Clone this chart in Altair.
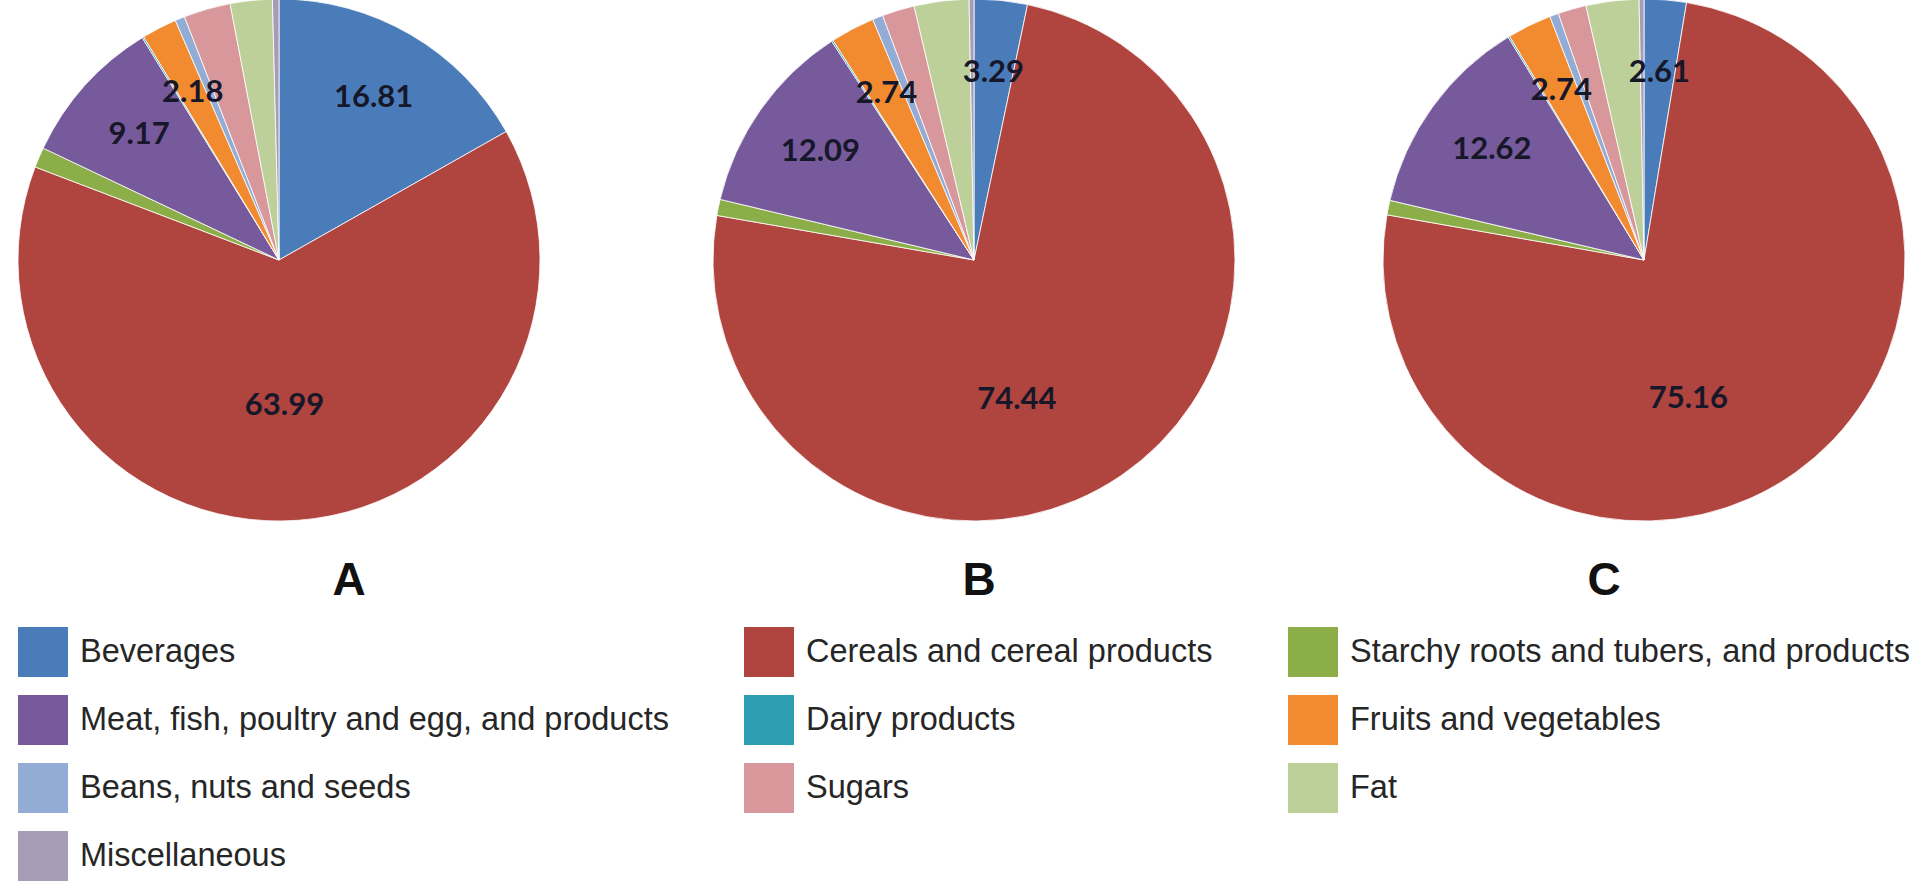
import math

import altair as alt
import pandas as pd

# Panels and food groups (legend order = clockwise slice order)
panels = ["A", "B", "C"]
categories = [
    "Beverages",
    "Cereals and cereal products",
    "Starchy roots and tubers, and products",
    "Meat, fish, poultry and egg, and products",
    "Dairy products",
    "Fruits and vegetables",
    "Beans, nuts and seeds",
    "Sugars",
    "Fat",
    "Miscellaneous",
]
colors = [
    "#4a7cba", "#b0443f", "#8cae48", "#765a9c", "#2e9fb3",
    "#f28a30", "#92acd6", "#d8979a", "#bdd09a", "#a69cb6",
]

# Percentage share of each food group, per panel
share_a = [16.81, 63.99, 1.25, 9.17, 0.10, 2.18, 0.60, 2.90, 2.60, 0.40]
share_b = [3.29, 74.44, 1.00, 12.09, 0.10, 2.74, 0.65, 2.00, 3.39, 0.30]
share_c = [2.61, 75.16, 0.90, 12.62, 0.10, 2.74, 0.55, 1.75, 3.27, 0.30]

# Groups whose share is printed on the slice
labelled = [
    "Beverages",
    "Cereals and cereal products",
    "Meat, fish, poultry and egg, and products",
    "Fruits and vegetables",
]

rows = []
for p_i, (panel, shares) in enumerate(zip(panels, [share_a, share_b, share_c])):
    for c_i, (cat, v) in enumerate(zip(categories, shares)):
        rows.append({"panel": panel, "pidx": p_i, "category": cat,
                     "order": c_i, "value": v})
df = pd.DataFrame(rows)

R = 261                      # pie radius, px
CY = 260                     # pie centre height, px
centres = [279, 974, 1644]   # pie centre x for panels A, B, C

pie_x = alt.X("pidx:Q", scale=alt.Scale(domain=[0, 1, 2], range=centres), axis=None)
theta_scale = alt.Scale(domain=[0, 100], range=[0, 2 * math.pi])

color_enc = alt.Color(
    "category:N",
    scale=alt.Scale(domain=categories, range=colors),
    legend=alt.Legend(
        title=None,
        orient="none",
        direction="horizontal",
        legendX=18,
        legendY=627,
        columns=3,
        columnPadding=75,
        rowPadding=18,
        padding=0,
        symbolType="square",
        symbolSize=2500,
        symbolStrokeWidth=0,
        symbolOpacity=1,
        labelFont="Liberation Sans",
        labelFontSize=32.5,
        labelColor="#262626",
        labelLimit=1000,
        labelOffset=12,
    ),
)

# One stacked pie per panel
pie_layers = []
for p_i, panel in enumerate(panels):
    pie_layers.append(
        alt.Chart(df)
        .transform_filter(alt.FieldEqualPredicate(field="panel", equal=panel))
        .mark_arc(radius=R, stroke="white", strokeWidth=0.8)
        .encode(
            x=alt.value(centres[p_i]),
            y=alt.value(CY),
            theta=alt.Theta("value:Q", stack=True, scale=theta_scale),
            color=color_enc,
            order=alt.Order("order:Q", sort="ascending"),
        )
    )

# Cumulative shares give each slice's mid-angle for the value labels
base = (
    alt.Chart(df)
    .transform_window(
        cum="sum(value)",
        groupby=["panel"],
        sort=[alt.SortField("order", order="ascending")],
        frame=[None, 0],
    )
    .transform_calculate(mid="datum.cum - datum.value / 2")
)

label_style = dict(font="Lato", fontWeight="bold", fontSize=31, color="#17172a")

# Shares of the smaller slices, printed near the rim at the slice's mid-angle
small_labels = (
    base.transform_filter(alt.FieldOneOfPredicate(field="category", oneOf=labelled))
    .transform_filter("datum.value < 50")
    .mark_text(radius=R * 0.72, **label_style)
    .encode(
        x=pie_x,
        y=alt.value(CY),
        theta=alt.Theta("mid:Q", scale=theta_scale, stack=False),
        text=alt.Text("value:Q", format=".2f"),
    )
)

# Dominant slice: label pulled toward the bottom of the pie
big_labels = (
    base.transform_filter("datum.value >= 50")
    .transform_calculate(lab="(datum.mid + 50) / 2")
    .mark_text(radius=R * 0.56, **label_style)
    .encode(
        x=pie_x,
        y=alt.value(CY),
        theta=alt.Theta("lab:Q", scale=theta_scale, stack=False),
        text=alt.Text("value:Q", format=".2f"),
    )
)

titles = (
    alt.Chart(pd.DataFrame({"panel": panels, "pidx": [0, 1, 2]}))
    .mark_text(font="Liberation Sans", fontWeight="bold", fontSize=46,
               baseline="alphabetic", color="#111111")
    .encode(
        x=alt.X("pidx:Q", scale=alt.Scale(domain=[0, 1, 2], range=[349, 979, 1604]), axis=None),
        y=alt.value(595),
        text="panel:N",
    )
)

chart = (
    alt.layer(*pie_layers, small_labels, big_labels, titles)
    .resolve_scale(x="independent")
    .properties(
        width=1931,
        height=882,
        padding=0,
        autosize=alt.AutoSizeParams(type="none"),
        background="white",
    )
    .configure_view(stroke=None)
)

chart.save("out.html", embed_options={"renderer": "svg", "actions": False})
